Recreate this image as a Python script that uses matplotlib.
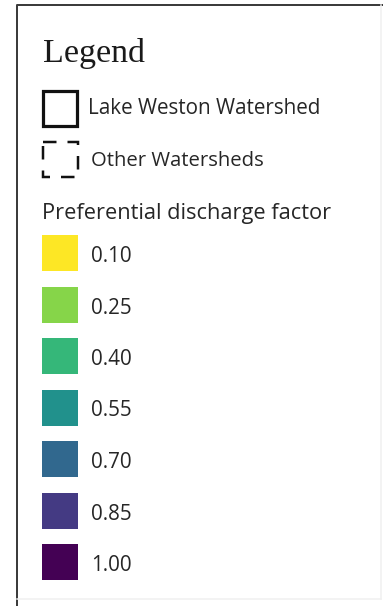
import matplotlib
matplotlib.use("Agg")
import matplotlib.pyplot as plt
from matplotlib.patches import Rectangle

# legend content
title = "Legend"
boundary_labels = ["Lake Weston Watershed", "Other Watersheds"]
factor_title = "Preferential discharge factor"
factor_values = [0.10, 0.25, 0.40, 0.55, 0.70, 0.85, 1.00]
factor_colors = ["#fde725", "#86d549", "#35b779", "#21918c",
                 "#31688e", "#443a83", "#440154"]

W, H = 383, 606
PT = 0.72  # pixels -> points at dpi 100

fig = plt.figure(figsize=(W / 100, H / 100), dpi=100)
ax = fig.add_axes([0, 0, 1, 1])
ax.set_xlim(0, W)
ax.set_ylim(H, 0)
ax.axis("off")

# frame
ax.plot([17, 17, W], [H, 5, 5], color="#3c3c3c", lw=2 * PT,
        solid_capstyle="butt")
ax.plot([381, 381], [5, 599], color="#f0f0f0", lw=1.5 * PT)
ax.plot([17, 381], [599, 599], color="#f0f0f0", lw=1.5 * PT)

body = dict(family="Open Sans", color="#262626", va="baseline")

ax.text(43, 62, title, family="Liberation Serif", fontsize=34 * PT,
        color="#1a1a1a", va="baseline")

# boundary symbols
lw_solid = 3.2 * PT
ax.add_patch(Rectangle((43.4, 90.6), 34, 35, fill=False, ec="#111111",
                       lw=lw_solid, joinstyle="miter"))
lw_dash = 2.5 * PT
ax.add_patch(Rectangle((43, 142.3), 34.5, 34.5, fill=False, ec="#111111",
                       lw=lw_dash, capstyle="butt",
                       ls=(0, (13.5 * PT / lw_dash, 11 * PT / lw_dash))))
ax.text(88, 114, boundary_labels[0], fontsize=20.7 * PT, **body)
ax.text(91, 166, boundary_labels[1], fontsize=20.3 * PT, **body)

ax.text(42, 219, factor_title, fontsize=21.8 * PT, **body)

for i, (v, c) in enumerate(zip(factor_values, factor_colors)):
    top = 235 + i * 51.5
    ax.add_patch(Rectangle((42, top), 36, 36, fc=c, ec="none"))
    ax.text(91, top + 27, f"{v:.2f}", fontsize=20.7 * PT, **body)

fig.savefig("out.png", dpi=100, facecolor="white")
